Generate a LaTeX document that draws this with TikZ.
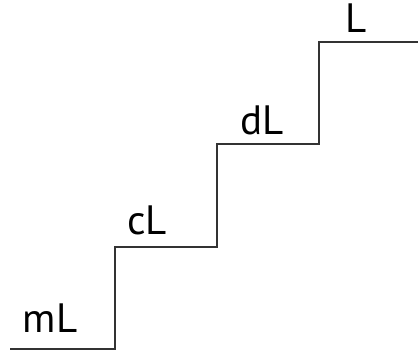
\documentclass[tikz,border=0pt]{standalone}
\usepackage{fontspec}
\setmainfont{PT Sans}
\begin{document}
\begin{tikzpicture}[x=1pt,y=1pt,
    stair/.style={line width=2.3pt,color=black!80},
    steplabel/.style={anchor=base,inner sep=0pt,font=\fontsize{41}{48}\selectfont}]
    \useasboundingbox (0,0) rectangle (418,353);
    % corners of the stairs
    \coordinate (a0) at (10,4);
    \coordinate (a1) at (115,4);
    \coordinate (a2) at (115,106);
    \coordinate (a3) at (217,106);
    \coordinate (a4) at (217,209);
    \coordinate (a5) at (319,209);
    \coordinate (a6) at (319,311);
    \coordinate (a7) at (418,311);
    \draw[stair] (a0)--(a1)--(a2)--(a3)--(a4)--(a5)--(a6)--(a7);
    \node (mL) [steplabel] at (50,20) {mL};
    \node (cL) [steplabel] at (147,118) {cL};
    \node (dL) [steplabel] at (262,218) {dL};
    \node (L) [steplabel] at (356,320) {L};
\end{tikzpicture}
\end{document}
